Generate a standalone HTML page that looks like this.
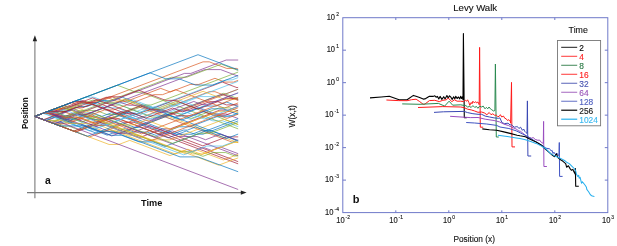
<!DOCTYPE html>
<html><head><meta charset="utf-8"><style>
html,body{margin:0;padding:0;background:#fff;}
svg{display:block;font-family:"Liberation Sans",sans-serif;will-change:transform;}
</style></head><body>
<svg width="617" height="246" viewBox="0 0 617 246">
<rect width="617" height="246" fill="#fff"/>
<g fill="none" stroke-width="0.68" stroke-linejoin="round" stroke-linecap="round">
<polyline points="34.80,116.40 56.66,124.66 65.26,121.41 97.83,133.73 109.05,129.48 119.75,133.53 136.29,127.27 140.30,127.27 168.22,137.83 186.29,131.00 194.73,134.19 203.04,134.19 237.80,121.05" stroke="#0072BD"/>
<polyline points="34.80,116.40 71.10,102.68 83.07,107.20 203.07,61.84 209.29,61.84 226.70,68.42 236.48,68.42 237.80,68.93" stroke="#D95319"/>
<polyline points="34.80,116.40 45.18,112.47 53.50,115.62 75.87,107.16 107.77,119.22 116.42,115.95 131.52,115.95 144.96,110.87 153.82,110.87 237.80,142.62" stroke="#EDB120"/>
<polyline points="34.80,116.40 50.96,110.29 61.06,110.29 72.51,114.62 87.71,114.62 96.93,118.10 103.83,118.10 192.28,151.54 203.37,147.35 211.44,150.40 220.47,146.99 237.80,153.54" stroke="#7E2F8E"/>
<polyline points="34.80,116.40 60.30,126.04 68.60,126.04 79.60,130.20 143.37,106.09 148.96,106.09 158.47,109.69 178.67,102.05 237.80,124.40" stroke="#77AC30"/>
<polyline points="34.80,116.40 85.68,97.17 93.99,97.17 108.60,102.69 113.96,102.69 148.19,115.63 162.11,115.63 172.19,119.44 181.32,115.98 190.44,119.43 199.75,115.91 212.76,120.83 222.71,120.83 237.55,126.44 237.80,126.44" stroke="#4DBEEE"/>
<polyline points="34.80,116.40 46.32,120.75 57.17,116.65 64.28,116.65 74.42,112.82 139.75,137.51 162.60,128.87 170.25,128.87 219.85,110.12 228.24,110.12 237.80,106.51" stroke="#A2142F"/>
<polyline points="34.80,116.40 43.46,113.13 48.96,113.13 107.24,135.16 124.64,128.58 133.88,132.08 147.18,132.08 156.12,135.46 179.10,126.77 190.24,126.77 217.16,116.60 228.92,116.60 237.80,113.24" stroke="#0072BD"/>
<polyline points="34.80,116.40 52.26,109.80 56.78,109.80 65.28,106.58 70.53,106.58 82.35,102.11 98.24,102.11 112.23,96.82 232.23,142.18 237.80,140.08" stroke="#D95319"/>
<polyline points="34.80,116.40 55.67,108.51 66.03,108.51 186.03,153.87 196.64,149.86 223.37,159.96 237.80,154.50" stroke="#EDB120"/>
<polyline points="34.80,116.40 54.54,123.86 67.52,118.95 75.90,118.95 96.04,126.57 111.33,120.79 155.13,137.34 172.27,130.86 237.80,155.64" stroke="#7E2F8E"/>
<polyline points="34.80,116.40 117.34,85.20 136.18,92.32 141.42,92.32 237.80,128.75" stroke="#77AC30"/>
<polyline points="34.80,116.40 78.65,99.83 88.11,103.40 94.32,103.40 106.06,107.84 116.81,107.84 131.47,113.38 149.55,106.54 167.42,113.30 184.48,113.30 237.80,93.14" stroke="#4DBEEE"/>
<polyline points="34.80,116.40 45.22,112.46 51.28,112.46 82.86,100.52 202.86,145.88 226.69,136.88 237.80,136.88" stroke="#A2142F"/>
<polyline points="34.80,116.40 54.25,123.75 77.71,114.88 91.90,114.88 102.02,118.71 118.75,112.39 176.66,134.28 191.85,134.28 201.32,130.70 211.76,130.70 237.80,140.54" stroke="#0072BD"/>
<polyline points="34.80,116.40 89.36,137.02 209.36,91.66 214.92,91.66 237.80,100.31" stroke="#D95319"/>
<polyline points="34.80,116.40 73.78,131.13 88.55,125.55 102.78,130.93 117.80,130.93 129.21,135.24 137.57,135.24 149.87,139.89 169.72,139.89 224.05,119.35 237.80,124.55" stroke="#EDB120"/>
<polyline points="34.80,116.40 49.69,110.77 71.61,119.05 81.69,119.05 92.02,122.96 122.47,111.44 148.49,121.28 165.00,115.04 169.46,115.04 180.90,110.72 189.65,110.72 197.65,107.69 213.99,113.87 225.72,113.87 237.80,118.43" stroke="#7E2F8E"/>
<polyline points="34.80,116.40 58.37,125.31 112.21,104.96 119.92,104.96 152.08,117.12 160.82,117.12 223.76,93.33 237.80,98.63" stroke="#77AC30"/>
<polyline points="34.80,116.40 43.53,113.10 54.35,113.10 81.19,102.95 95.93,102.95 103.94,99.93 112.04,102.99 125.00,102.99 133.24,99.87 154.28,107.83 165.98,103.41 173.99,106.44 200.02,96.60 218.72,96.60 237.80,89.39" stroke="#4DBEEE"/>
<polyline points="34.80,116.40 73.71,131.11 110.01,117.39 123.00,122.30 134.00,122.30 237.80,161.53" stroke="#A2142F"/>
<polyline points="34.80,116.40 47.37,111.65 70.17,120.27 82.77,115.51 93.45,119.54 108.80,119.54 129.15,111.85 147.95,118.95 152.63,118.95 165.91,113.93 174.80,117.30 204.52,106.06 216.30,106.06 226.77,102.10 237.80,106.27" stroke="#0072BD"/>
<polyline points="34.80,116.40 53.84,109.20 65.74,109.20 81.30,103.33 89.87,103.33 106.22,97.15 116.92,101.19 126.77,101.19 160.72,88.36 170.25,91.96 190.19,84.43 198.75,84.43 214.94,78.31 224.95,82.09 233.54,82.09 237.80,80.48" stroke="#D95319"/>
<polyline points="34.80,116.40 55.32,108.64 175.32,154.00 187.91,149.24 201.87,154.52 236.31,141.50 237.80,142.06" stroke="#EDB120"/>
<polyline points="34.80,116.40 47.42,111.63 111.78,135.96 222.49,94.11 237.80,99.90" stroke="#7E2F8E"/>
<polyline points="34.80,116.40 45.51,120.45 54.98,120.45 81.04,110.59 96.58,110.59 107.09,114.56 116.64,114.56 141.80,105.05 150.93,105.05 237.80,72.21" stroke="#77AC30"/>
<polyline points="34.80,116.40 43.02,113.29 89.52,130.87 124.84,117.52 132.91,117.52 179.23,100.01 220.66,115.67 232.14,115.67 237.80,113.53" stroke="#4DBEEE"/>
<polyline points="34.80,116.40 75.83,131.91 110.54,118.79 118.95,118.79 237.80,163.71" stroke="#A2142F"/>
<polyline points="34.80,116.40 64.23,105.28 84.81,113.06 93.05,113.06 101.88,116.39 111.50,112.76 165.82,133.29 174.86,133.29 183.31,130.10 187.42,130.10 195.58,127.01 226.24,138.60 237.80,134.23" stroke="#0072BD"/>
<polyline points="34.80,116.40 54.42,123.82 67.75,123.82 104.62,109.88 113.69,109.88 153.97,94.66 162.55,94.66 175.61,89.72 224.31,108.13 237.80,103.04" stroke="#D95319"/>
<polyline points="34.80,116.40 109.05,144.47 118.86,144.47 129.71,140.37 169.99,155.59 183.53,150.47 192.70,153.94 202.75,153.94 233.27,142.41 237.80,142.41" stroke="#EDB120"/>
<polyline points="34.80,116.40 45.38,112.40 61.99,118.68 71.84,114.96 84.78,114.96 204.78,69.60 220.67,69.60 237.80,76.07" stroke="#7E2F8E"/>
<polyline points="34.80,116.40 46.60,111.94 61.23,111.94 92.16,100.25 96.23,100.25 104.30,103.30 115.21,103.30 124.51,99.78 149.43,109.20 159.08,109.20 168.38,112.72 175.88,112.72 191.12,118.48 219.22,107.86 229.56,107.86 237.80,110.98" stroke="#77AC30"/>
<polyline points="34.80,116.40 76.35,100.70 86.64,104.59 91.65,104.59 128.87,118.66 139.33,118.66 237.80,81.43" stroke="#4DBEEE"/>
<polyline points="34.80,116.40 44.29,112.81 53.50,112.81 80.14,102.74 97.40,102.74 126.44,113.72 138.42,113.72 222.21,82.05 237.08,87.67 237.80,87.40" stroke="#A2142F"/>
<polyline points="34.80,116.40 44.13,119.93 79.95,106.38 87.32,106.38 102.16,100.78 112.91,100.78 122.26,97.24 237.80,140.92" stroke="#0072BD"/>
<polyline points="34.80,116.40 72.57,102.12 85.66,102.12 144.85,124.50 237.80,89.36" stroke="#D95319"/>
<polyline points="34.80,116.40 46.78,120.93 59.41,120.93 109.11,102.14 116.64,102.14 125.06,98.96 153.98,109.89 203.09,91.33 224.08,99.26 237.79,99.26 237.80,99.26" stroke="#EDB120"/>
<polyline points="34.80,116.40 46.52,111.97 56.48,115.73 67.62,115.73 114.25,133.36 130.33,133.36 150.39,125.77 179.00,136.59 197.23,136.59 205.55,139.74 220.67,134.02 237.80,140.50" stroke="#7E2F8E"/>
<polyline points="34.80,116.40 51.35,122.66 171.35,77.30 186.44,77.30 221.28,64.13 237.80,70.37" stroke="#77AC30"/>
<polyline points="34.80,116.40 43.63,113.06 84.45,128.49 93.00,125.26 106.31,125.26 226.31,79.90 232.09,79.90 237.80,77.74" stroke="#4DBEEE"/>
<polyline points="34.80,116.40 43.49,119.69 75.19,107.71 82.70,107.71 92.22,104.11 118.94,114.21 140.44,106.08 150.35,109.83 162.04,109.83 177.77,115.77 191.36,115.77 202.91,111.41 212.78,115.14 225.59,115.14 237.80,110.52" stroke="#A2142F"/>
<polyline points="34.80,116.40 87.39,136.28 122.84,122.87 135.87,127.80 168.91,115.31 181.57,120.10 211.44,108.81 223.07,108.81 237.47,114.25 237.80,114.25" stroke="#0072BD"/>
<polyline points="34.80,116.40 45.17,112.48 68.12,121.16 72.42,121.16 84.90,116.44 93.68,116.44 104.14,120.40 113.43,116.89 158.71,134.01 213.47,113.31 226.97,118.42 237.80,114.32" stroke="#D95319"/>
<polyline points="34.80,116.40 64.32,105.24 116.23,124.86 133.40,124.86 146.26,120.00 171.11,129.40 218.89,111.34 234.19,111.34 237.80,112.70" stroke="#EDB120"/>
<polyline points="34.80,116.40 46.52,111.97 64.47,118.76 184.47,73.40 190.80,73.40 226.19,60.02 237.80,60.02" stroke="#7E2F8E"/>
<polyline points="34.80,116.40 61.44,106.33 181.44,151.69 190.69,151.69 202.93,156.32 212.89,152.56 225.68,152.56 234.62,155.94 237.80,155.94" stroke="#77AC30"/>
<polyline points="34.80,116.40 50.66,110.41 97.70,128.19 154.21,106.82 168.90,112.38 177.72,109.04 204.30,119.09 237.80,106.42" stroke="#4DBEEE"/>
<polyline points="34.80,116.40 74.34,101.45 83.22,101.45 92.58,97.92 145.86,118.06 172.46,108.00 182.59,111.83 209.63,101.61 217.71,101.61 226.31,104.86 237.80,104.86" stroke="#A2142F"/>
<polyline points="34.80,116.40 45.64,120.50 55.73,116.69 74.11,123.64 80.30,123.64 111.14,135.29 121.70,135.29 139.06,141.85 152.91,141.85 164.98,146.42 237.80,118.89" stroke="#0072BD"/>
<polyline points="34.80,116.40 75.61,131.83 92.64,125.39 105.65,125.39 145.51,140.46 151.58,140.46 237.80,107.87" stroke="#D95319"/>
<polyline points="34.80,116.40 51.82,122.83 60.00,119.74 69.68,123.40 89.32,123.40 98.71,119.84 218.71,165.20 237.80,157.99" stroke="#EDB120"/>
<polyline points="34.80,116.40 51.13,110.23 61.21,114.03 72.52,109.76 85.54,114.68 119.41,101.88 128.33,105.25 140.85,105.25 159.26,112.21 165.36,112.21 193.80,101.46 202.16,104.62 206.80,104.62 237.80,92.90" stroke="#7E2F8E"/>
<polyline points="34.80,116.40 50.88,110.32 81.83,122.02 99.10,115.49 172.90,143.38 199.66,133.27 209.85,133.27 237.80,122.70" stroke="#77AC30"/>
<polyline points="34.80,116.40 44.78,112.63 55.27,112.63 63.66,109.46 183.66,154.82 206.89,146.04 222.43,146.04 237.80,140.23" stroke="#4DBEEE"/>
<polyline points="34.80,116.40 47.54,111.58 65.30,111.58 95.91,100.01 100.24,100.01 108.76,96.79 121.40,96.79 138.81,90.21 165.63,100.35 175.07,100.35 198.11,109.06 226.30,98.40 235.73,98.40 237.80,99.18" stroke="#A2142F"/>
<polyline points="34.80,116.40 150.05,72.84 165.90,78.83 179.11,78.83 195.58,85.06 212.61,85.06 237.80,75.54" stroke="#0072BD"/>
<polyline points="34.80,116.40 43.41,113.14 53.99,113.14 65.17,117.37 79.86,117.37 95.46,123.27 104.46,119.87 141.42,133.84 237.80,97.41" stroke="#D95319"/>
<polyline points="34.80,116.40 198.00,54.71 237.80,69.75" stroke="#0072BD"/>
<polyline points="34.80,116.40 60.00,125.93 85.00,125.93 100.00,131.60 113.00,131.60 140.00,141.80 180.00,156.90 198.00,156.90 237.80,171.60" stroke="#0072BD"/>
<polyline points="34.80,116.40 50.00,122.15 60.00,122.15 237.80,189.35" stroke="#7E2F8E"/>
</g>
<line x1="34.9" y1="198.3" x2="34.9" y2="39" stroke="#7a7a7a" stroke-width="1.1"/>
<polygon points="34.9,35.3 32.7,41.2 37.1,41.2" fill="#222"/>
<line x1="27" y1="192.6" x2="242" y2="192.6" stroke="#7a7a7a" stroke-width="1.1"/>
<polygon points="246.6,192.6 240.8,190.4 240.8,194.8" fill="#222"/>
<text x="45.1" y="184.3" font-size="10.4" font-weight="bold" fill="#111">a</text>
<text x="141" y="206.3" font-size="9.2" font-weight="bold" fill="#111">Time</text>
<text transform="translate(27.9,129) rotate(-90)" font-size="9.2" font-weight="bold" fill="#111" textLength="31.6" lengthAdjust="spacingAndGlyphs">Position</text>

<g fill="none" stroke-linejoin="round">
<polyline points="370.00,97.90 381.20,97.00 389.30,96.30 392.80,97.60 399.10,99.80 407.10,99.80 413.40,95.40 416.00,96.30 419.60,97.60 423.20,99.10 424.90,98.90 429.40,96.30 433.00,96.40 434.80,95.80 436.10,97.20 437.50,96.40 438.80,98.90 440.10,96.40 441.90,99.40 443.70,96.70 445.10,98.90 446.90,95.50 448.20,98.00 449.50,95.80 450.90,97.20 452.20,99.40 453.60,96.70 454.90,98.90 455.80,96.30 457.10,98.50 458.50,97.00 459.80,98.90 460.70,96.30 461.60,98.50 462.50,96.70 463.00,99.80 463.40,33.60 464.30,117.60 466.70,117.60" stroke="#000000" stroke-width="1.10"/>
<polyline points="386.40,100.00 398.20,100.60 407.10,100.70 411.60,99.70 416.10,99.20 419.70,101.60 423.20,104.30 424.90,104.10 429.40,100.60 434.80,100.30 439.30,101.60 442.80,100.30 446.40,99.80 448.20,98.00 451.80,101.60 454.50,99.80 457.10,101.20 460.70,101.20 463.40,101.60 465.30,100.30 466.70,101.20 467.60,99.80 468.90,102.50 469.80,105.40 471.20,102.50 472.00,103.80 472.90,101.20 474.30,102.90 475.60,101.60 476.50,102.90 477.90,102.00 478.80,103.80 479.20,104.70 479.60,47.40 480.30,127.20 483.20,127.20" stroke="#ff1a1a" stroke-width="1.00"/>
<polyline points="402.20,103.90 420.00,104.30 438.40,103.40 444.60,106.10 449.10,101.20 452.70,105.20 460.70,104.80 464.30,105.50 465.80,105.60 467.60,107.00 469.40,106.50 471.20,107.40 472.90,105.60 474.70,107.40 476.50,106.50 477.90,108.30 479.70,106.10 481.40,107.00 483.20,106.10 485.00,108.80 486.40,107.40 487.70,108.80 489.00,107.00 490.40,108.80 491.70,109.70 493.50,111.00 494.90,110.50 495.40,64.00 496.30,137.00 498.80,137.00" stroke="#2a8a50" stroke-width="1.00"/>
<polyline points="418.00,107.50 442.80,106.60 460.70,107.00 464.00,107.60 467.60,109.20 471.20,109.90 474.70,111.00 478.00,112.30 481.60,112.00 484.30,112.90 486.90,114.70 489.20,112.50 491.00,114.70 492.80,113.80 494.50,115.20 496.30,115.20 497.70,116.50 499.00,116.50 500.40,114.70 501.70,117.00 503.50,116.10 504.80,118.30 506.20,118.80 507.50,120.50 508.90,119.70 510.20,121.00 510.60,123.20 511.50,82.40 512.00,146.90 515.00,146.90" stroke="#ff1a1a" stroke-width="1.00"/>
<polyline points="434.00,112.40 443.40,111.80 464.00,111.40 467.60,112.60 472.90,113.70 478.00,114.30 481.60,114.30 485.20,116.10 489.60,117.00 494.10,117.90 498.60,118.30 499.90,117.90 502.00,122.70 504.50,123.60 508.00,123.20 510.00,124.90 511.60,124.90 514.30,127.20 516.50,126.70 517.10,126.30 518.90,128.50 520.60,127.20 522.40,130.30 523.70,129.00 524.60,131.20 525.90,132.50 527.00,133.40 527.40,100.90 527.90,156.00 531.20,156.00" stroke="#3a48b4" stroke-width="1.00"/>
<polyline points="450.10,116.30 464.00,117.20 470.30,117.60 478.00,117.50 485.20,119.20 494.10,120.50 499.50,121.90 503.90,124.10 508.40,125.50 511.80,127.20 516.10,129.00 518.90,131.00 520.60,131.40 524.20,134.30 527.20,136.60 529.50,137.50 531.60,138.20 533.20,137.60 535.20,139.40 537.90,140.30 539.50,140.00 541.50,142.50 543.30,143.40 543.60,121.40 543.90,166.50 546.90,166.50" stroke="#9a4ec0" stroke-width="1.00"/>
<polyline points="466.20,122.50 474.70,123.00 478.00,123.30 486.70,124.00 496.60,125.40 500.00,127.00 508.90,128.50 516.10,130.80 522.40,133.90 526.80,136.10 531.00,138.60 536.00,141.80 541.50,145.00 546.00,148.20 549.50,148.80 550.30,149.50 551.20,151.00 552.10,150.40 553.00,153.50 553.90,152.20 555.50,154.50 557.00,153.20 558.50,155.50 559.00,155.00 559.30,142.50 559.60,176.40 562.60,176.40" stroke="#4053c2" stroke-width="1.00"/>
<polyline points="482.30,128.90 489.40,129.70 496.60,130.30 502.80,131.60 510.00,133.40 517.10,135.20 520.00,135.80 525.40,136.70 530.70,139.40 536.10,142.10 541.50,145.20 544.50,148.40 548.90,152.20 552.50,155.30 554.30,156.60 556.50,153.90 557.90,157.50 560.60,159.80 563.00,161.30 565.70,163.60 566.60,167.20 568.40,165.80 570.20,168.90 571.50,170.30 572.90,169.40 573.80,171.60 575.10,173.90 575.40,168.50 575.70,186.30 578.80,186.30" stroke="#000000" stroke-width="1.10"/>
<polyline points="497.90,135.20 507.30,136.50 516.30,137.90 520.00,138.50 525.40,139.80 530.70,141.60 536.10,143.40 541.50,146.10 545.90,148.80 550.70,153.60 556.10,156.60 560.60,158.40 565.00,160.80 566.60,162.20 569.30,163.60 572.00,166.30 574.20,168.50 575.60,170.70 576.50,174.30 577.80,176.50 578.70,175.40 579.20,178.20 580.10,177.30 581.50,183.20 582.40,181.80 584.20,184.00 585.50,185.80 586.40,187.20 586.80,189.40 588.60,191.70 590.40,194.80 592.20,196.10 594.40,196.40" stroke="#28b0ee" stroke-width="1.05"/>
</g>
<rect x="342.8" y="17.7" width="264.99999999999994" height="194.9" fill="none" stroke="#6f79c9" stroke-width="1"/>
<g stroke="#6f79c9" stroke-width="1">
<line x1="395.80" y1="212.60" x2="395.80" y2="210.30"/>
<line x1="395.80" y1="17.70" x2="395.80" y2="20.00"/>
<line x1="448.80" y1="212.60" x2="448.80" y2="210.30"/>
<line x1="448.80" y1="17.70" x2="448.80" y2="20.00"/>
<line x1="501.80" y1="212.60" x2="501.80" y2="210.30"/>
<line x1="501.80" y1="17.70" x2="501.80" y2="20.00"/>
<line x1="554.80" y1="212.60" x2="554.80" y2="210.30"/>
<line x1="554.80" y1="17.70" x2="554.80" y2="20.00"/>
<line x1="342.80" y1="50.18" x2="346.00" y2="50.18"/>
<line x1="607.80" y1="50.18" x2="604.80" y2="50.18"/>
<line x1="342.80" y1="82.67" x2="346.00" y2="82.67"/>
<line x1="607.80" y1="82.67" x2="604.80" y2="82.67"/>
<line x1="342.80" y1="115.15" x2="346.00" y2="115.15"/>
<line x1="607.80" y1="115.15" x2="604.80" y2="115.15"/>
<line x1="342.80" y1="147.63" x2="346.00" y2="147.63"/>
<line x1="607.80" y1="147.63" x2="604.80" y2="147.63"/>
<line x1="342.80" y1="180.12" x2="346.00" y2="180.12"/>
<line x1="607.80" y1="180.12" x2="604.80" y2="180.12"/>
</g>
<g fill="#1a1a1a" stroke="#1a1a1a" stroke-width="0.15">
<text transform="translate(339.0,19.90) scale(0.86,1)" text-anchor="end" font-size="8.8">10<tspan dx="1.4" dy="-3.9" font-size="5.8">2</tspan></text>
<text transform="translate(339.0,52.38) scale(0.86,1)" text-anchor="end" font-size="8.8">10<tspan dx="1.4" dy="-3.9" font-size="5.8">1</tspan></text>
<text transform="translate(339.0,84.87) scale(0.86,1)" text-anchor="end" font-size="8.8">10<tspan dx="1.4" dy="-3.9" font-size="5.8">0</tspan></text>
<text transform="translate(339.0,117.35) scale(0.86,1)" text-anchor="end" font-size="8.8">10<tspan dx="1.4" dy="-3.9" font-size="5.8">-1</tspan></text>
<text transform="translate(339.0,149.83) scale(0.86,1)" text-anchor="end" font-size="8.8">10<tspan dx="1.4" dy="-3.9" font-size="5.8">-2</tspan></text>
<text transform="translate(339.0,182.32) scale(0.86,1)" text-anchor="end" font-size="8.8">10<tspan dx="1.4" dy="-3.9" font-size="5.8">-3</tspan></text>
<text transform="translate(339.0,214.80) scale(0.86,1)" text-anchor="end" font-size="8.8">10<tspan dx="1.4" dy="-3.9" font-size="5.8">-4</tspan></text>
<text transform="translate(343.10,222.7) scale(0.86,1)" text-anchor="middle" font-size="8.8">10<tspan dx="1.0" dy="-4.2" font-size="5.8">-2</tspan></text>
<text transform="translate(396.10,222.7) scale(0.86,1)" text-anchor="middle" font-size="8.8">10<tspan dx="1.0" dy="-4.2" font-size="5.8">-1</tspan></text>
<text transform="translate(449.10,222.7) scale(0.86,1)" text-anchor="middle" font-size="8.8">10<tspan dx="1.0" dy="-4.2" font-size="5.8">0</tspan></text>
<text transform="translate(502.10,222.7) scale(0.86,1)" text-anchor="middle" font-size="8.8">10<tspan dx="1.0" dy="-4.2" font-size="5.8">1</tspan></text>
<text transform="translate(555.10,222.7) scale(0.86,1)" text-anchor="middle" font-size="8.8">10<tspan dx="1.0" dy="-4.2" font-size="5.8">2</tspan></text>
<text transform="translate(608.10,222.7) scale(0.86,1)" text-anchor="middle" font-size="8.8">10<tspan dx="1.0" dy="-4.2" font-size="5.8">3</tspan></text>
</g>
<rect x="557.50" y="40.50" width="43.10" height="85.30" fill="#fff" stroke="#777" stroke-width="0.9"/>
<line x1="561.2" y1="47.30" x2="577.2" y2="47.30" stroke="#000000" stroke-width="0.9"/>
<text x="579.3" y="50.90" font-size="8.4" fill="#000000" stroke="#000000" stroke-width="0.12">2</text>
<line x1="561.2" y1="56.29" x2="577.2" y2="56.29" stroke="#ff2020" stroke-width="0.9"/>
<text x="579.3" y="59.89" font-size="8.4" fill="#ff2020" stroke="#ff2020" stroke-width="0.12">4</text>
<line x1="561.2" y1="65.28" x2="577.2" y2="65.28" stroke="#2a7a45" stroke-width="0.9"/>
<text x="579.3" y="68.88" font-size="8.4" fill="#2a7a45" stroke="#2a7a45" stroke-width="0.12">8</text>
<line x1="561.2" y1="74.27" x2="577.2" y2="74.27" stroke="#ff2020" stroke-width="0.9"/>
<text x="579.3" y="77.87" font-size="8.4" fill="#ff2020" stroke="#ff2020" stroke-width="0.12">16</text>
<line x1="561.2" y1="83.26" x2="577.2" y2="83.26" stroke="#4652b0" stroke-width="0.9"/>
<text x="579.3" y="86.86" font-size="8.4" fill="#4652b0" stroke="#4652b0" stroke-width="0.12">32</text>
<line x1="561.2" y1="92.25" x2="577.2" y2="92.25" stroke="#9a55b8" stroke-width="0.9"/>
<text x="579.3" y="95.85" font-size="8.4" fill="#9a55b8" stroke="#9a55b8" stroke-width="0.12">64</text>
<line x1="561.2" y1="101.24" x2="577.2" y2="101.24" stroke="#5060c0" stroke-width="0.9"/>
<text x="579.3" y="104.84" font-size="8.4" fill="#5060c0" stroke="#5060c0" stroke-width="0.12">128</text>
<line x1="561.2" y1="110.23" x2="577.2" y2="110.23" stroke="#1a1a1a" stroke-width="1.3"/>
<text x="579.3" y="113.83" font-size="8.4" fill="#1a1a1a" stroke="#1a1a1a" stroke-width="0.12">256</text>
<line x1="561.2" y1="119.22" x2="577.2" y2="119.22" stroke="#38b8f0" stroke-width="1.3"/>
<text x="579.3" y="122.82" font-size="8.4" fill="#38b8f0" stroke="#38b8f0" stroke-width="0.12">1024</text>
<text x="578.2" y="33" font-size="8.8" text-anchor="middle" fill="#111" stroke="#111" stroke-width="0.12">Time</text>
<text x="475.2" y="10.7" font-size="9.6" text-anchor="middle" fill="#111" stroke="#111" stroke-width="0.12">Levy Walk</text>
<text x="474.2" y="241.8" font-size="8.3" text-anchor="middle" fill="#111" stroke="#111" stroke-width="0.12">Position (x)</text>
<text transform="translate(295.4,116.3) rotate(-90)" font-size="8.4" text-anchor="middle" fill="#111" stroke="#111" stroke-width="0.12">W(x,t)</text>
<text x="352.8" y="203" font-size="11" font-weight="bold" fill="#111">b</text>
</svg>
</body></html>
